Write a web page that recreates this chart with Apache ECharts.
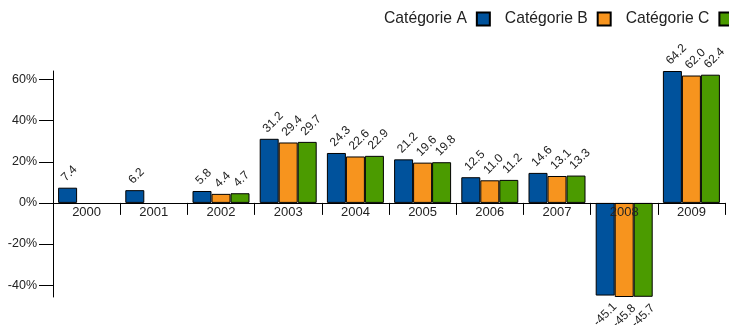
<!DOCTYPE html>
<html>
<head>
<meta charset="utf-8">
<script src="https://cdn.jsdelivr.net/npm/echarts@6/dist/echarts.min.js"></script>
<style>
html,body{margin:0;padding:0;background:#fff;}
#chart{width:729px;height:325px;}
</style>
</head>
<body>
<div id="chart"></div>
<script>
const categories = ['2000','2001','2002','2003','2004','2005','2006','2007','2008','2009'];
const seriesNames = ['Catégorie A','Catégorie B','Catégorie C'];
const valuesA = [7.4, 6.2, 5.8, 31.2, 24.3, 21.2, 12.5, 14.6, -45.1, 64.2];
const valuesB = [null, null, 4.4, 29.4, 22.6, 19.6, 11.0, 13.1, -45.8, 62.0];
const valuesC = [null, null, 4.7, 29.7, 22.9, 19.8, 11.2, 13.3, -45.7, 62.4];
const yTicks = [-40, -20, 0, 20, 40, 60];
const colors = ['#00529c', '#f7941e', '#4b9b00'];

const all = valuesA.concat(valuesB, valuesC).filter(v => v !== null);
const yMin = Math.min(...all);
const yMax = Math.max(...all);

const W = 729, H = 325;
const gridTop = 71, gridBottom = 28;
const gridH = H - gridTop - gridBottom;
// move the category axis up from the grid bottom to the zero line
const zeroOffset = -gridH * (0 - yMin) / (yMax - yMin);

function toItems(arr) {
  return arr.map(v => {
    if (v === null) return '-';
    if (v < 0) {
      return {
        value: v,
        label: { position: 'bottom', distance: 19, align: 'center', verticalAlign: 'middle' }
      };
    }
    return v;
  });
}

const font = 'Liberation Sans, Arial, sans-serif';

const chart = echarts.init(document.getElementById('chart'), null, { renderer: 'canvas' });
const series = [valuesA, valuesB, valuesC].map((arr, i) => ({
  name: seriesNames[i],
  type: 'bar',
  data: toItems(arr),
  barWidth: 19,
  barGap: '0%',
  itemStyle: { color: colors[i], borderColor: '#000', borderWidth: 1 },
  label: {
    show: true,
    position: 'top',
    distance: 4,
    rotate: 45,
    align: 'left',
    verticalAlign: 'bottom',
    fontFamily: font,
    fontSize: 12,
    color: '#222',
    formatter: p => Number(p.value).toFixed(1)
  },
  emphasis: { disabled: true },
  animation: false
}));

chart.setOption({
  animation: false,
  legend: {
    left: 384,
    top: 11,
    width: 500,
    padding: 0,
    orient: 'horizontal',
    align: 'right',
    itemWidth: 13,
    itemHeight: 13,
    itemGap: 14,
    icon: 'rect',
    textStyle: { fontFamily: font, fontSize: 15.7, color: '#222', padding: [0, 5, 0, 0] },
    data: seriesNames
  },
  grid: { left: 53, right: 4, top: gridTop, bottom: gridBottom, containLabel: false },
  xAxis: {
    type: 'category',
    data: categories,
    position: 'bottom',
    offset: zeroOffset,
    z: 5,
    axisLine: { onZero: false, lineStyle: { color: '#000', width: 1 } },
    axisTick: { show: true, interval: 0, length: 12, lineStyle: { color: '#000' } },
    axisLabel: { interval: 0, margin: 3, fontFamily: font, fontSize: 13, color: '#222' },
    splitLine: { show: false }
  },
  yAxis: {
    type: 'value',
    min: yMin,
    max: yMax,
    axisLine: { show: true, lineStyle: { color: '#000', width: 1 } },
    axisTick: { show: true, length: 14, lineStyle: { color: '#000' }, customValues: yTicks },
    axisLabel: { margin: 16, fontFamily: font, fontSize: 12.5, color: '#222', formatter: '{value}%', customValues: yTicks },
    splitLine: { show: false }
  },
  series: series
});
</script>
</body>
</html>
